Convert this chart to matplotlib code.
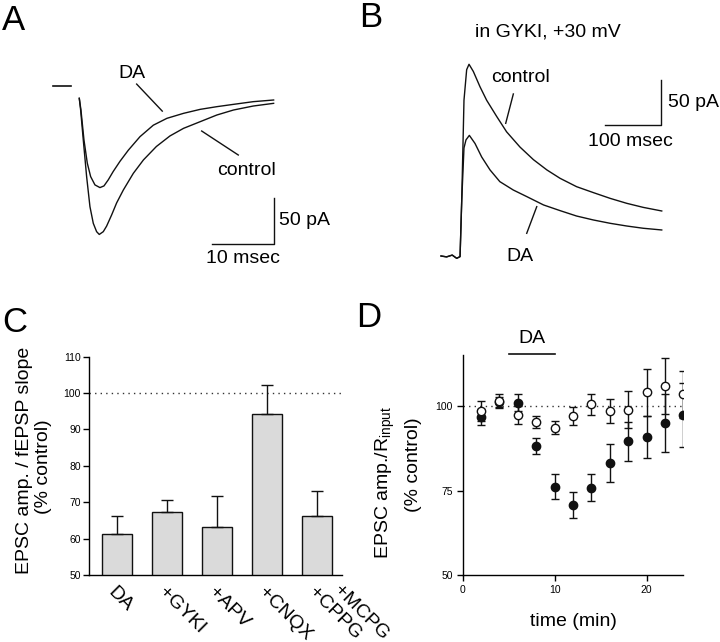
import matplotlib

matplotlib.use("Agg")

import matplotlib.pyplot as plt

# panel A: EPSC traces (ms, pA)
A_CTRL_T = [0, 0.22, 0.65, 1.19, 1.73, 2.27, 2.81, 3.24, 3.89, 4.43, 5.24, 6.05, 7.14, 8.76,
            10.4, 12.5, 14.7, 16.9, 19.6, 22.3, 25.0, 28.2, 31.5]
A_CTRL_I = [0, -12.6, -45, -84.5, -117, -135, -144, -147, -144, -138, -126, -113, -99, -81,
            -66.5, -52, -40.6, -32.4, -25.2, -18, -12.6, -8.3, -5.4]
A_DA_T = [0, 0.27, 0.76, 1.30, 1.84, 2.54, 3.35, 4.0, 4.7, 5.5, 6.6, 7.95, 9.84, 12.0,
          14.2, 16.9, 19.6, 22.3, 25.0, 28.2, 31.5]
A_DA_I = [0, -12.6, -45, -70, -84.5, -93.5, -96.4, -94.6, -88, -79, -68, -56, -41.4, -29,
          -21.6, -16.2, -11.9, -9, -6.5, -3.6, -1.8]

# panel B: NMDA EPSC traces in GYKI at +30 mV (ms, pA)
B_CTRL_T = [0, 10, 20, 28, 34, 37, 41, 45.8, 50, 57.7, 69.6, 81.5, 99.4, 117, 141, 165, 189,
            212.5, 242, 272, 302, 331.6, 361, 394]
B_CTRL_I = [0, -1, 1, -2.6, -0.7, 62, 173, 207, 213, 205, 188, 173, 155, 138, 121, 107, 95.6,
            86.3, 77, 70.4, 64, 58.5, 54, 50]
B_DA_T = [0, 10, 20, 28, 34, 37, 41, 44.6, 50.6, 60.7, 72.6, 87.5, 105, 129, 153, 183, 212.5,
          242, 272, 302, 331.6, 361, 394]
B_DA_I = [0, -1, 1, -2.6, -0.7, 62, 120, 129, 134, 125, 110, 95.6, 82.6, 73.3, 66, 56.7, 50.4,
          44.4, 40, 36.3, 33.3, 30.8, 28.9]

# panel C: bar chart
C_LABELS = ["DA", "+GYKI", "+APV", "+CNQX", "+CPPG +MCPG"]
C_MEANS = [61.2, 67.3, 63.2, 94.3, 66.2]
C_SEM = [5.0, 3.2, 8.6, 7.8, 6.8]
C_YTICKS = [50, 60, 70, 80, 90, 100, 110]

# panel D: time course
D_TIME = [2, 4, 6, 8, 10, 12, 14, 16, 18, 20, 22, 24]
D_FILLED = [96.6, 101.1, 100.9, 88.1, 76.1, 70.8, 75.9, 83.0, 89.5, 90.7, 95.0, 97.3]
D_FILLED_ERR = [2.4, 1.5, 2.5, 2.3, 3.7, 3.8, 3.9, 5.6, 5.8, 6.2, 8.5, 9.5]
D_OPEN = [98.5, 101.4, 97.3, 95.2, 93.6, 97.0, 100.4, 98.5, 98.9, 104.0, 105.9, 103.4]
D_OPEN_ERR = [3.0, 2.0, 2.7, 1.8, 2.0, 2.7, 3.0, 3.5, 5.5, 7.0, 8.2, 7.0]
DA_START, DA_END = 5, 10

W, H = 720, 642
FONT = "Liberation Sans"
plt.rcParams.update({
    "font.family": [FONT, "DejaVu Sans"],
    "font.size": 14,
    "axes.linewidth": 1.0,
    "mathtext.fontset": "custom",
    "mathtext.rm": FONT,
})


def px_axes(fig, x0, y0, x1, y1):
    return fig.add_axes([x0 / W, 1 - y1 / H, (x1 - x0) / W, (y1 - y0) / H])


def fig_text(fig, x, y, s, **kw):
    kw.setdefault("ha", "center")
    kw.setdefault("va", "center")
    fig.text(x / W, 1 - y / H, s, **kw)


fig = plt.figure(figsize=(W / 100, H / 100), dpi=100)

# ---- A ----
ax = px_axes(fig, 0, 0, 360, 300)
ax.set_xlim(-12.85, 45.5)
ax.set_ylim(-217.8, 106.2)
ax.axis("off")
ax.plot(A_CTRL_T, A_CTRL_I, color="#111111", lw=1.0)
ax.plot(A_DA_T, A_DA_I, color="#111111", lw=1.0)
ax.plot([-4.3, -1.35], [13.3, 13.3], color="#111111", lw=1.2)
ax.text(8.5, 27, "DA", ha="center", va="center", fontsize=14)
ax.plot([9.3, 13.45], [15.4, -13.8], color="#111111", lw=1.0)
ax.text(27.1, -78.2, "control", ha="center", va="center", fontsize=14)
ax.plot([19.84, 25.77], [-35.3, -61.2], color="#111111", lw=1.0)
ax.plot([21.55, 31.55, 31.55], [-157.3, -157.3, -107.3], color="#111111", lw=1.0)
ax.text(32.4, -132, "50 pA", ha="left", va="center", fontsize=14)
ax.text(26.5, -172.8, "10 msec", ha="center", va="center", fontsize=14)

# ---- B ----
ax = px_axes(fig, 360, 0, 720, 300)
ax.set_xlim(-144.6, 498)
ax.set_ylim(-48.9, 284.4)
ax.axis("off")
ax.plot(B_CTRL_T, B_CTRL_I, color="#111111", lw=1.0)
ax.plot(B_DA_T, B_DA_I, color="#111111", lw=1.0)
ax.text(191.6, 249, "in GYKI, +30 mV", ha="center", va="center", fontsize=14)
ax.text(141, 198.6, "control", ha="center", va="center", fontsize=14)
ax.plot([129.1, 115.5], [180, 147.4], color="#111111", lw=1.0)
ax.text(141, -0.8, "DA", ha="center", va="center", fontsize=14)
ax.plot([170.9, 153], [54.8, 25.2], color="#111111", lw=1.0)
ax.plot([292.9, 392.9, 392.9], [145.6, 145.6, 195.6], color="#111111", lw=1.0)
ax.text(405, 170, "50 pA", ha="left", va="center", fontsize=14)
ax.text(337.5, 127, "100 msec", ha="center", va="center", fontsize=14)

# ---- C ----
ax = px_axes(fig, 89, 356.7, 342, 575)
x = list(range(len(C_MEANS)))
ax.bar(x, C_MEANS, width=0.6, bottom=0, color="#dadada", edgecolor="#111111", lw=1.0, zorder=2)
ax.errorbar(x, C_MEANS, yerr=[[0] * len(C_SEM), C_SEM], fmt="none", ecolor="#111111",
            elinewidth=1.0, capsize=4, capthick=1.0, zorder=3)
ax.axhline(100, color="#333333", lw=1.0, ls=(0, (1, 3)), zorder=1)
ax.set_xlim(-0.554, 4.506)
ax.set_ylim(50, 110)
ax.set_yticks(C_YTICKS)
ax.tick_params(axis="y", labelsize=7.5, length=4, width=1.0, pad=2)
ax.set_xticks([])
for side in ("top", "right"):
    ax.spines[side].set_visible(False)
for i, lab in enumerate(C_LABELS):
    for j, part in enumerate(lab.split(" ")):
        ax.text(i - 0.12 + 0.5 * j, 46.0 + 0.6 * j, part, rotation=-45, rotation_mode="anchor",
                ha="left", va="center", fontsize=14, clip_on=False)
fig_text(fig, 25, 460, "EPSC amp. / fEPSP slope", rotation=90, fontsize=14)
fig_text(fig, 43.3, 466.7, "(% control)", rotation=90, fontsize=14)

# ---- D ----
ax = px_axes(fig, 462.7, 355, 683.3, 575.3)
ax.axhline(100, color="#333333", lw=1.0, ls=(0, (1, 3)), zorder=1)
ax.errorbar(D_TIME, D_FILLED, yerr=D_FILLED_ERR, fmt="o", color="#111111", ms=6,
            mfc="#111111", mec="#111111", elinewidth=1.0, capsize=3, capthick=1.0, zorder=3)
ax.errorbar(D_TIME, D_OPEN, yerr=D_OPEN_ERR, fmt="o", color="#111111", ms=6,
            mfc="white", mec="#111111", mew=1.0, elinewidth=1.0, capsize=3, capthick=1.0, zorder=4)
ax.plot([DA_START, DA_END], [115.3, 115.3], color="#111111", lw=1.2, clip_on=False)
ax.text((DA_START + DA_END) / 2, 120, "DA", ha="center", va="center", fontsize=14)
ax.set_xlim(0, 24)
ax.set_ylim(50, 115)
ax.set_xticks([0, 10, 20])
ax.set_yticks([50, 75, 100])
ax.tick_params(labelsize=7.5, length=4, width=1.0, pad=3)
for side in ("top", "right"):
    ax.spines[side].set_visible(False)
fig_text(fig, 573.3, 621.7, "time (min)", fontsize=14)
fig_text(fig, 385, 482, r"EPSC amp./R$_\mathregular{input}$", rotation=90, fontsize=14)
fig_text(fig, 413.3, 465, "(% control)", rotation=90, fontsize=14)

# panel letters
fig_text(fig, 14, 30, "A", fontsize=25, va="baseline")
fig_text(fig, 371, 27, "B", fontsize=25, va="baseline")
fig_text(fig, 15, 332, "C", fontsize=25, va="baseline")
fig_text(fig, 369, 327, "D", fontsize=25, va="baseline")

fig.savefig("out.png", dpi=100, facecolor="white")
